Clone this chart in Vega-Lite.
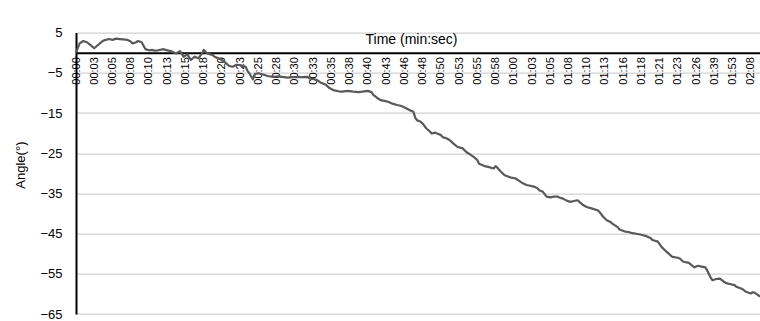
{
  "$schema": "https://vega.github.io/schema/vega-lite/v6.json",
  "autosize": "none",
  "width": 684,
  "height": 281.4,
  "padding": {"left": 76, "top": 32.6, "right": 0, "bottom": 7},
  "background": "white",
  "config": {"view": {"stroke": null}, "font": "Liberation Sans"},
  "data": {"values": [
    {"t":0,"a":0},{"t":2,"a":2.3},{"t":4,"a":2.9},{"t":6,"a":2.6},{"t":8,"a":1.9},{"t":10,"a":1.1},{"t":13,"a":2.3},{"t":15,"a":3.0},{"t":18,"a":3.4},{"t":20,"a":3.2},{"t":22,"a":3.5},{"t":24,"a":3.4},{"t":26,"a":3.3},{"t":28,"a":3.2},{"t":30,"a":2.8},{"t":31,"a":2.3},{"t":33,"a":2.6},{"t":34,"a":2.9},{"t":36,"a":2.6},{"t":38,"a":0.9},{"t":40,"a":0.6},{"t":42,"a":0.7},{"t":43,"a":0.5},{"t":45,"a":0.6},{"t":48,"a":0.9},{"t":49,"a":0.7},{"t":52,"a":0.4},{"t":53,"a":0.2},{"t":55,"a":-0.2},{"t":57,"a":0.4},{"t":59,"a":-1.0},{"t":61,"a":-0.4},{"t":63,"a":-1.8},{"t":65,"a":-1.0},{"t":67,"a":-1.4},{"t":69,"a":-0.3},{"t":70,"a":0.7},{"t":72,"a":-0.2},{"t":75,"a":-0.6},{"t":76,"a":-1.0},{"t":78,"a":-1.4},{"t":80,"a":-1.8},{"t":83,"a":-2.9},{"t":84,"a":-3.3},{"t":86,"a":-3.5},{"t":88,"a":-3.0},{"t":90,"a":-3.1},{"t":93,"a":-3.5},{"t":94,"a":-4.5},{"t":95,"a":-5.1},{"t":97,"a":-6.6},{"t":98,"a":-5.3},{"t":100,"a":-5.1},{"t":103,"a":-5.5},{"t":105,"a":-5.8},{"t":108,"a":-6.0},{"t":111,"a":-5.9},{"t":113,"a":-6.0},{"t":116,"a":-6.2},{"t":119,"a":-6.1},{"t":122,"a":-6.0},{"t":124,"a":-6.1},{"t":127,"a":-6.0},{"t":128,"a":-6.4},{"t":130,"a":-6.5},{"t":132,"a":-6.8},{"t":134,"a":-7.4},{"t":137,"a":-8.0},{"t":139,"a":-8.8},{"t":141,"a":-9.3},{"t":144,"a":-9.6},{"t":146,"a":-9.7},{"t":149,"a":-9.5},{"t":152,"a":-9.7},{"t":155,"a":-9.8},{"t":157,"a":-9.7},{"t":160,"a":-9.5},{"t":162,"a":-9.8},{"t":163,"a":-10.5},{"t":165,"a":-11.2},{"t":167,"a":-11.8},{"t":169,"a":-12.0},{"t":171,"a":-12.2},{"t":173,"a":-12.6},{"t":176,"a":-13.0},{"t":178,"a":-13.2},{"t":179,"a":-13.4},{"t":181,"a":-13.8},{"t":183,"a":-14.3},{"t":185,"a":-14.7},{"t":186,"a":-16.2},{"t":187,"a":-16.8},{"t":189,"a":-17.2},{"t":190,"a":-17.6},{"t":192,"a":-18.8},{"t":194,"a":-19.6},{"t":195,"a":-20.1},{"t":197,"a":-19.9},{"t":198,"a":-20.1},{"t":200,"a":-20.5},{"t":201,"a":-21.0},{"t":203,"a":-21.3},{"t":205,"a":-21.8},{"t":207,"a":-22.6},{"t":209,"a":-23.4},{"t":212,"a":-23.8},{"t":214,"a":-24.7},{"t":216,"a":-25.3},{"t":218,"a":-25.9},{"t":220,"a":-26.7},{"t":221,"a":-27.6},{"t":224,"a":-28.2},{"t":226,"a":-28.4},{"t":229,"a":-28.8},{"t":230,"a":-28.2},{"t":231,"a":-28.6},{"t":233,"a":-29.6},{"t":235,"a":-30.5},{"t":238,"a":-31.0},{"t":241,"a":-31.3},{"t":243,"a":-31.9},{"t":245,"a":-32.5},{"t":247,"a":-32.9},{"t":249,"a":-33.1},{"t":251,"a":-33.3},{"t":253,"a":-33.7},{"t":254,"a":-34.2},{"t":256,"a":-34.6},{"t":258,"a":-35.8},{"t":260,"a":-36.0},{"t":262,"a":-35.8},{"t":264,"a":-35.8},{"t":265,"a":-36.0},{"t":267,"a":-36.3},{"t":269,"a":-36.8},{"t":271,"a":-37.1},{"t":273,"a":-36.9},{"t":275,"a":-36.7},{"t":278,"a":-37.9},{"t":280,"a":-38.4},{"t":283,"a":-38.8},{"t":286,"a":-39.2},{"t":287,"a":-39.6},{"t":289,"a":-40.8},{"t":291,"a":-41.7},{"t":293,"a":-42.1},{"t":294,"a":-42.5},{"t":297,"a":-43.4},{"t":298,"a":-44.0},{"t":301,"a":-44.5},{"t":303,"a":-44.6},{"t":305,"a":-44.9},{"t":308,"a":-45.1},{"t":311,"a":-45.4},{"t":313,"a":-45.7},{"t":315,"a":-46.1},{"t":316,"a":-46.6},{"t":319,"a":-47.0},{"t":321,"a":-48.3},{"t":323,"a":-49.2},{"t":324,"a":-49.6},{"t":326,"a":-50.4},{"t":327,"a":-50.8},{"t":330,"a":-51.0},{"t":331,"a":-51.2},{"t":333,"a":-52.0},{"t":336,"a":-52.3},{"t":338,"a":-53.0},{"t":339,"a":-53.4},{"t":341,"a":-53.0},{"t":343,"a":-53.2},{"t":345,"a":-53.4},{"t":346,"a":-54.1},{"t":348,"a":-56.0},{"t":349,"a":-56.6},{"t":351,"a":-56.3},{"t":353,"a":-56.2},{"t":355,"a":-56.9},{"t":357,"a":-57.4},{"t":359,"a":-57.6},{"t":361,"a":-57.8},{"t":362,"a":-58.2},{"t":365,"a":-58.7},{"t":367,"a":-59.4},{"t":370,"a":-59.9},{"t":371,"a":-59.6},{"t":372,"a":-59.7},{"t":374,"a":-60.3},{"t":375,"a":-60.7}
  ]},
  "mark": {"type": "line", "color": "#595959", "strokeWidth": 2.2, "strokeJoin": "round"},
  "encoding": {
    "x": {
      "field": "t", "type": "quantitative",
      "scale": {"domain": [0, 375], "nice": false, "zero": false},
      "axis": {
        "orient": "bottom",
        "offset": -261.3,
        "values": [0,10,20,30,40,50,60,70,80,90,100,110,120,130,140,150,160,170,180,190,200,210,220,230,240,250,260,270,280,290,300,310,320,330,340,350,360,370],
        "labelExpr": "['00:00','00:03','00:05','00:08','00:10','00:13','00:15','00:18','00:20','00:23','00:25','00:28','00:30','00:33','00:35','00:38','00:40','00:43','00:46','00:48','00:50','00:53','00:55','00:58','01:00','01:03','01:05','01:08','01:10','01:13','01:16','01:18','01:21','01:23','01:26','01:39','01:53','02:08'][round(datum.value/10)]",
        "labelAngle": -90,
        "labelFontSize": 11,
        "labelColor": "#000000",
        "labelPadding": 4,
        "labelOverlap": false,
        "labelBound": false,
        "labelFlush": false,
        "ticks": false,
        "grid": false,
        "domainColor": "#000000",
        "domainWidth": 2,
        "title": "Time (min:sec)",
        "titleFontSize": 14,
        "titleFontWeight": "normal",
        "titleColor": "#000000",
        "titleX": 335,
        "titleY": -13,
        "titleBaseline": "middle",
        "titleAnchor": null,
        "titleAlign": "center"
      }
    },
    "y": {
      "field": "a", "type": "quantitative",
      "scale": {"domain": [-65, 5], "nice": false, "zero": false},
      "axis": {
        "values": [5,-5,-15,-25,-35,-45,-55,-65],
        "labelFontSize": 13,
        "labelColor": "#000000",
        "labelPadding": 14,
        "ticks": false,
        "grid": true,
        "gridColor": "#c6c6c6",
        "gridWidth": 1,
        "domainColor": "#000000",
        "domainWidth": 2,
        "title": "Angle(°)",
        "titleFontSize": 13,
        "titleFontWeight": "normal",
        "titleColor": "#000000",
        "titleX": -56,
        "titleY": 132,
        "titleAngle": -90,
        "titleBaseline": "middle",
        "titleAlign": "center"
      }
    }
  }
}
